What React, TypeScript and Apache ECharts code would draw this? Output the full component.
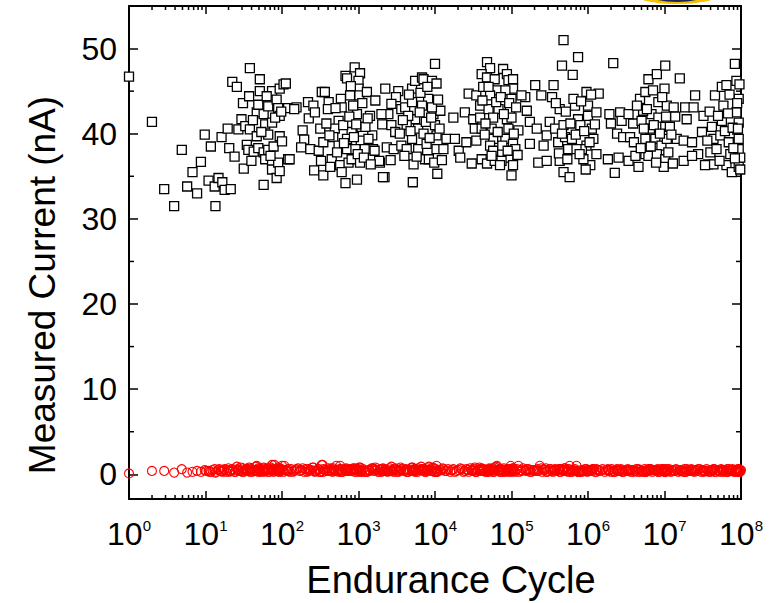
import React, { useEffect, useRef } from "react";
import * as echarts from "echarts";

// x values are log10(Endurance Cycle); y values are measured current (nA)
const xTickExponents = [0, 1, 2, 3, 4, 5, 6, 7, 8];
const yTickValues = [0, 10, 20, 30, 40, 50];
const yMinorValues = [5, 15, 25, 35, 45];
const minorMantissas = [2, 3, 4, 5, 6, 7, 8, 9];

// ON-state current (black squares): [log10(cycle), nA]
const onPoints = [
  // 10^0 - 10^2
  [0.00,46.7],[0.30,41.4],[0.46,33.5],[0.59,31.5],[0.69,38.1],[0.76,33.8],[0.83,35.5],[0.89,33.0],[0.94,36.7],[0.99,39.9],
  [1.04,34.5],[1.07,38.5],[1.12,33.8],[1.13,31.5],[1.17,34.8],[1.21,39.6],[1.22,34.3],[1.25,33.4],[1.29,40.6],[1.31,38.3],
  [1.33,33.5],[1.35,46.1],[1.38,37.3],[1.41,45.5],[1.43,40.5],[1.47,41.7],[1.49,43.6],[1.50,35.9],[1.52,40.9],[1.54,38.7],
  [1.56,38.1],[1.57,44.4],[1.58,47.7],[1.58,40.5],[1.60,36.8],[1.63,37.9],[1.67,42.5],[1.67,39.7],[1.69,43.4],[1.69,38.3],
  [1.71,46.4],[1.71,45.0],[1.76,42.3],[1.76,37.8],[1.76,34.0],[1.78,41.1],[1.78,37.0],[1.82,43.2],[1.82,39.9],[1.82,38.1],
  [1.87,45.0],[1.87,41.3],[1.87,36.4],[1.87,35.8],[1.89,38.5],[1.93,44.0],[1.93,34.8],[1.95,43.0],[1.95,36.6],[1.97,45.3],
  [1.97,42.1],[1.97,39.7],[1.97,35.6],[2.00,39.1],[2.02,45.8],[2.08,37.0],[2.08,43.0],
  // 10^2 - 10^4
  [2.05,45.9],[2.10,37.0],[2.19,43.1],[2.16,42.9],[2.27,40.4],[2.29,39.3],[2.25,38.4],[2.34,43.7],[2.35,41.8],[2.41,43.3],
  [2.43,42.5],[2.37,38.2],[2.48,38.0],[2.42,35.7],[2.54,35.1],[2.52,44.9],[2.56,44.9],[2.61,43.7],[2.60,42.9],[2.50,40.6],
  [2.54,39.0],[2.65,37.0],[2.63,36.1],[2.76,36.3],[2.78,35.5],[2.83,34.2],[2.83,46.8],[2.85,46.5],[2.95,47.8],[3.02,47.1],
  [3.00,46.2],[3.00,45.3],[3.01,44.5],[3.11,44.9],[3.22,43.9],[3.15,42.1],[3.18,39.8],[3.04,40.8],[2.98,42.3],[2.93,43.3],
  [2.89,44.5],[2.77,44.1],[2.78,43.1],[2.74,41.5],[2.69,40.6],[2.67,39.6],[2.74,38.6],[2.85,38.2],[2.87,36.6],[2.91,37.0],
  [3.02,36.6],[2.98,34.6],[3.03,39.2],[2.91,40.2],[2.85,39.4],[3.09,40.8],[3.19,38.2],[3.28,36.6],[3.34,34.9],[3.35,45.3],
  [3.52,45.0],[3.49,44.3],[3.43,43.5],[3.39,42.3],[3.31,41.1],[3.30,42.3],[3.43,41.0],[3.48,40.2],[3.37,38.4],[3.46,38.2],
  [3.56,42.9],[3.61,43.1],[3.70,43.7],[3.70,45.3],[3.74,46.2],[3.83,46.6],[3.85,46.4],[3.96,46.2],[4.02,45.9],[4.00,48.2],
  [3.91,44.1],[3.83,43.3],[3.74,41.7],[3.78,40.6],[3.65,42.1],[3.63,41.0],[3.54,40.0],[3.56,38.6],[3.63,38.2],[3.70,39.4],
  [3.78,38.2],[3.89,38.8],[4.00,41.0],[4.02,39.8],[3.98,42.3],[4.07,42.7],[3.96,43.1],[3.85,40.0],[3.87,37.0],[3.72,36.4],
  [3.92,37.0],[4.02,38.2],[4.11,38.2],[4.03,35.3],[3.71,34.3],[3.32,34.9],[3.42,36.9],[3.27,36.8],[3.21,38.0],[3.13,39.4],
  [3.08,38.2],[2.96,38.2],[2.51,36.8],
  // 10^4 - 10^6
  [4.15,39.4],[4.24,41.9],[4.26,39.4],[4.31,38.0],[4.33,37.2],[4.39,42.5],[4.44,44.7],[4.41,39.0],[4.48,36.5],[4.50,41.7],
  [4.52,40.6],[4.54,44.5],[4.59,43.3],[4.59,41.9],[4.61,40.6],[4.54,39.2],[4.61,37.0],[4.68,48.4],[4.72,47.7],[4.61,47.0],
  [4.68,46.6],[4.78,46.4],[4.81,45.1],[4.63,45.5],[4.72,44.5],[4.70,42.9],[4.83,42.9],[4.76,41.9],[4.74,40.6],[4.76,39.4],
  [4.72,38.6],[4.76,38.0],[4.68,36.5],[4.78,36.8],[4.89,47.6],[4.94,47.0],[4.96,46.3],[5.02,46.4],[5.02,45.3],[4.92,45.1],
  [5.00,44.1],[4.98,42.7],[4.94,41.7],[5.00,41.9],[5.09,40.4],[4.96,40.6],[4.92,39.4],[5.02,38.8],[5.05,38.2],[4.96,37.2],
  [5.02,36.3],[5.00,35.1],[4.87,36.8],[4.85,36.3],[5.18,44.3],[5.13,44.5],[5.20,42.7],[5.24,41.4],[5.31,45.7],[5.39,44.5],
  [5.33,40.6],[5.46,39.8],[5.42,38.6],[5.24,38.8],[5.35,36.6],[5.46,36.8],[5.50,41.4],[5.55,45.7],[5.53,44.3],[5.63,42.9],
  [5.57,40.6],[5.61,39.0],[5.68,41.0],[5.70,39.6],[5.74,38.2],[5.68,35.5],[5.76,34.9],[5.68,51.0],[5.87,49.0],[5.66,48.0],
  [5.80,46.9],[5.83,43.3],[5.87,41.7],[5.98,44.9],[6.00,43.3],[6.00,42.1],[5.90,41.0],[6.05,40.6],[6.07,39.4],[5.98,38.6],
  [5.92,38.2],[6.03,36.3],[5.94,37.0],[6.11,37.6],[6.11,42.5],[6.14,44.7],[5.85,38.2],[5.79,39.4],[5.63,36.8],
  // 10^6 - 10^8
  [6.33,48.3],[6.28,42.3],[6.30,41.2],[6.26,37.0],[6.40,37.2],[6.35,35.4],[6.42,42.5],[6.44,41.5],[6.38,40.0],[6.46,39.6],
  [6.55,39.6],[6.53,36.8],[6.59,41.2],[6.66,36.1],[6.62,37.4],[6.53,42.3],[6.68,44.1],[6.75,44.9],[6.79,46.4],[6.90,47.0],
  [7.01,48.0],[7.00,45.3],[6.85,45.1],[6.92,43.7],[7.03,43.3],[7.12,43.1],[6.83,42.3],[6.72,42.7],[6.70,41.5],[6.81,40.6],
  [6.92,41.9],[7.01,40.8],[7.07,40.8],[6.75,39.4],[6.88,39.4],[6.96,38.6],[7.03,39.4],[6.75,37.6],[6.79,37.4],[6.90,37.6],
  [7.01,37.0],[6.99,36.1],[7.20,46.5],[7.16,39.4],[7.25,39.2],[7.25,36.8],[7.29,41.7],[7.27,43.1],[7.40,44.5],[7.38,43.1],
  [7.51,42.1],[7.49,40.2],[7.36,39.0],[7.44,37.6],[7.60,37.8],[7.57,36.4],[7.64,36.4],[7.66,44.5],[7.62,40.8],[7.64,39.4],
  [7.75,45.5],[7.81,45.7],[7.77,43.3],[7.75,41.5],[7.73,39.8],[7.84,39.0],[7.86,37.6],[7.81,36.3],[7.88,35.5],[7.92,48.2],
  [7.94,46.2],[7.97,44.1],[7.94,42.5],[7.97,41.3],[7.97,39.4],[7.97,38.2],[7.97,36.1],[7.99,37.2],[7.53,36.3],[7.36,37.4],
];

// further ON-state squares hidden in the dense clusters
const onExtraPoints = [
  [1.62,41.6],[1.73,40.2],[1.80,44.4],[1.85,37.4],[1.91,41.9],[1.99,42.6],
  [2.58,41.2],[2.62,39.8],[2.70,43.0],[2.72,37.8],[2.80,41.0],[2.81,38.9],[2.88,42.0],[2.90,45.6],[2.94,39.6],[2.97,41.1],[2.99,37.6],[3.05,43.6],[3.07,37.2],[3.12,41.8],[3.16,36.4],
  [3.58,41.6],[3.60,37.4],[3.66,44.6],[3.68,40.3],[3.76,37.3],[3.80,42.5],[3.81,44.8],[3.88,41.4],[3.90,45.5],[3.93,39.5],[3.95,41.9],[3.99,36.6],[4.04,44.0],[4.06,40.6],[4.09,36.9],
  [4.62,43.9],[4.65,39.9],[4.66,41.2],[4.70,45.5],[4.74,37.4],[4.80,43.7],[4.82,40.2],[4.86,44.3],[4.88,38.6],[4.90,42.3],[4.95,38.0],[4.97,43.6],[5.03,40.0],[5.06,43.1],[5.08,37.5],
  [5.58,43.6],[5.62,37.7],[5.66,40.0],[5.71,42.6],[5.73,37.0],[5.77,41.2],[5.81,44.1],[5.84,39.9],[5.89,37.6],[5.91,43.8],[5.95,40.3],[5.97,35.8],[6.02,39.0],[6.04,44.6],[6.09,41.1],
  [6.60,39.0],[6.64,43.3],[6.69,38.3],[6.73,40.6],[6.77,42.9],[6.82,38.5],[6.86,41.0],[6.89,36.6],[6.94,40.0],[6.97,44.3],[7.02,42.0],[7.05,37.8],[7.09,39.9],[7.11,36.5],[7.14,42.0],
  [7.56,39.2],[7.59,42.6],[7.68,38.2],[7.70,42.1],[7.72,36.8],[7.79,40.3],[7.83,42.4],[7.85,44.6],[7.89,40.7],[7.90,38.3],[7.92,37.1],[7.95,43.6],[7.96,40.6],[7.98,45.8],[7.99,35.8],
];

// OFF-state current (red circles), measured at the same cycles as onPoints
const offCurrent = [
  0.1,0.4,0.4,0.2,0.6,0.2,0.3,0.4,0.3,0.5, 0.4,0.3,0.6,0.2,0.5,0.4,0.3,0.6,0.5,0.3,
  0.4,0.6,0.3,0.9,0.5,0.4,0.7,0.3,0.5,0.6, 0.4,0.8,0.5,0.3,0.6,0.4,1.0,0.5,0.3,0.7,
  0.4,0.6,0.5,0.3,0.8,0.4,0.6,0.5,0.3,0.7, 0.4,0.6,1.1,0.5,0.3,0.6,0.4,0.8,0.5,0.3,
  0.6,0.4,0.5,1.0,0.3,0.6,0.4,
  0.5,0.3,0.6,0.4,0.7,0.3,0.5,0.6,0.4,0.8, 0.3,0.5,0.6,0.4,0.3,1.1,0.5,0.4,0.7,0.3,
  0.6,0.4,0.5,1.0,0.3,0.6,0.4,0.5,0.7,0.3, 0.4,0.6,0.5,0.3,0.8,0.4,0.6,0.3,0.5,0.7,
  0.4,0.3,0.6,0.5,0.4,0.7,0.3,0.5,0.6,0.4, 0.8,0.3,0.5,0.6,0.4,0.3,0.7,0.5,0.4,0.6,
  0.3,0.5,0.9,0.4,0.6,0.3,0.5,0.7,0.4,0.3, 0.6,0.5,0.4,0.8,0.3,0.6,0.5,0.4,1.0,0.3,
  0.5,0.6,0.4,0.7,0.3,0.5,0.4,0.6,0.3,0.8, 0.5,0.4,0.6,0.3,0.7,0.5,0.4,0.6,0.3,0.5,
  0.9,0.4,0.6,0.3,0.5,0.7,0.4,0.3,0.6,0.5, 0.4,0.6,0.3,
  0.4,0.6,0.3,0.5,0.7,0.4,0.3,0.6,0.5,0.4, 0.8,0.3,0.6,0.5,0.4,0.3,0.7,0.5,0.4,0.6,
  0.3,0.5,1.0,0.4,0.6,0.3,0.5,0.7,0.4,0.3, 0.6,0.5,0.4,0.8,0.3,0.6,0.5,0.4,0.7,0.3,
  0.5,0.6,0.4,0.3,1.0,0.5,0.4,0.6,0.3,0.5, 0.7,0.4,0.6,0.3,0.5,0.4,0.6,0.3,0.5,0.7,
  0.4,0.3,0.6,0.5,0.4,0.3,0.6,0.5,0.4,0.3, 0.6,0.5,0.4,0.7,0.3,0.5,1.0,0.4,0.3,0.6,
  0.5,0.4,0.3,0.6,0.5,0.4,0.3,0.5,0.6,0.4, 0.3,0.5,0.4,0.6,0.3,0.5,0.4,0.3,0.6,
  0.4,0.5,0.3,0.6,0.4,0.3,0.5,0.4,0.6,0.3, 0.5,0.4,0.3,0.6,0.4,0.5,0.3,0.4,0.6,0.5,
  0.3,0.4,0.5,0.3,0.6,0.4,0.5,0.3,0.4,0.6, 0.3,0.5,0.4,0.3,0.5,0.6,0.4,0.3,0.5,0.4,
  0.3,0.6,0.4,0.5,0.3,0.4,0.6,0.3,0.5,0.4, 0.3,0.5,0.4,0.6,0.3,0.4,0.5,0.3,0.4,0.6,
  0.5,0.3,0.4,0.5,0.3,0.6,0.4,0.3,0.5,0.4, 0.3,0.5,0.4,0.6,0.3,0.4,0.5,0.3,0.4,0.5,
];

// further OFF-state circles in the continuous red band: [log10(cycle), nA]
const offExtraPoints = [
  [1.01,0.4],[1.05,0.3],[1.09,0.5],[1.14,0.3],[1.18,0.6],[1.20,0.4],[1.24,0.5],[1.27,0.3],[1.30,0.7],[1.32,0.4],
  [1.36,0.5],[1.39,0.3],[1.42,0.6],[1.44,0.4],[1.46,0.8],[1.48,0.3],[1.51,0.5],[1.53,0.6],[1.55,0.4],[1.59,0.7],
  [1.61,0.3],[1.64,0.5],[1.66,0.9],[1.68,0.4],[1.70,0.6],[1.72,0.3],[1.74,0.5],[1.77,0.7],[1.79,0.4],[1.81,0.6],
  [1.83,0.3],[1.85,0.8],[1.88,0.5],[1.90,1.1],[1.92,0.4],[1.94,0.6],[1.96,0.3],[1.98,0.7],[2.01,0.5],[2.03,1.0],
  [2.06,0.4],[2.12,0.6],[2.14,0.3],[2.18,0.5],[2.21,0.7],[2.23,0.4],[2.31,0.6],[2.33,0.3],[2.38,0.5],[2.40,0.8],
  [2.45,0.4],[2.47,0.6],[2.49,0.3],[2.53,1.1],[2.57,0.5],[2.59,0.4],[2.64,0.7],[2.66,0.3],[2.68,0.5],[2.71,1.0],
  [2.73,0.4],[2.75,0.6],[2.79,0.3],[2.82,0.5],[2.84,0.7],[2.86,0.4],[2.92,0.6],[2.95,0.3],[2.97,0.5],[3.01,0.8],
  [3.04,0.4],[3.06,0.6],[3.10,0.3],[3.14,0.5],[3.17,0.7],[3.20,0.4],[3.23,0.5],[3.26,0.3],[3.29,0.6],[3.33,0.4],
  [3.36,0.5],[3.38,0.3],[3.41,0.7],[3.44,0.4],[3.47,0.6],[3.50,0.3],[3.53,0.5],[3.55,0.8],[3.59,0.4],[3.62,0.6],
  [3.64,0.3],[3.67,0.5],[3.69,0.7],[3.73,0.4],[3.75,0.6],[3.77,0.3],[3.80,0.5],[3.82,0.9],[3.84,0.4],[3.86,0.6],
  [3.88,0.3],[3.90,0.7],[3.93,0.5],[3.95,0.4],[3.97,0.8],[3.99,0.3],[4.01,0.6],[4.04,0.4],[4.08,0.5],[4.10,0.7],
  [4.13,0.4],[4.17,0.6],[4.20,0.3],[4.22,0.5],[4.28,0.4],[4.35,0.6],[4.37,0.3],[4.43,0.5],[4.46,0.7],[4.49,0.4],
  [4.51,0.6],[4.53,0.3],[4.56,0.5],[4.58,0.8],[4.60,0.4],[4.64,0.6],[4.66,0.3],[4.69,0.5],[4.71,0.7],[4.73,0.4],
  [4.75,0.6],[4.77,0.3],[4.79,0.5],[4.80,0.9],[4.82,0.4],[4.84,0.6],[4.86,0.3],[4.88,0.5],[4.90,0.7],[4.93,0.4],
  [4.95,0.6],[4.97,0.3],[4.99,1.0],[5.01,0.5],[5.04,0.4],[5.07,0.6],[5.10,0.3],[5.12,0.5],[5.15,0.7],[5.19,0.4],
  [5.22,0.6],[5.26,0.3],[5.28,0.5],[5.30,0.4],[5.34,0.6],[5.37,1.0],[5.40,0.3],[5.43,0.5],[5.45,0.7],[5.48,0.4],
  [5.51,0.6],[5.54,0.3],[5.56,0.5],[5.59,0.4],[5.62,0.6],[5.64,0.3],[5.67,0.5],[5.69,0.7],[5.72,0.4],[5.75,0.6],
  [5.77,0.3],[5.78,0.5],[5.81,0.4],[5.83,0.6],[5.85,1.0],[5.88,0.3],[5.91,0.5],[5.93,0.4],[5.96,0.6],[5.99,0.3],
  [6.01,0.5],[6.04,0.4],[6.06,0.6],[6.09,0.3],[6.12,0.5],[6.16,0.4],[6.19,0.6],[6.22,0.3],[6.24,0.5],[6.27,0.4],
  [6.31,0.6],[6.34,0.3],[6.37,0.5],[6.39,0.4],[6.43,0.6],[6.45,0.3],[6.48,0.5],[6.50,0.4],[6.52,0.6],[6.56,0.3],
  [6.58,0.5],[6.61,0.4],[6.63,0.6],[6.65,0.3],[6.67,0.5],[6.71,0.4],[6.74,0.6],[6.76,0.3],[6.78,0.5],[6.80,0.4],
  [6.82,0.6],[6.84,0.3],[6.87,0.5],[6.89,0.4],[6.91,0.6],[6.93,0.3],[6.95,0.5],[6.97,0.4],[6.98,0.6],[7.00,0.3],
  [7.02,0.5],[7.04,0.4],[7.06,0.6],[7.08,0.3],[7.10,0.5],[7.13,0.4],[7.15,0.6],[7.18,0.3],[7.21,0.5],[7.23,0.4],
  [7.26,0.6],[7.28,0.3],[7.31,0.5],[7.33,0.4],[7.35,0.6],[7.39,0.3],[7.41,0.5],[7.43,0.4],[7.46,0.6],[7.48,0.3],
  [7.50,0.5],[7.52,0.4],[7.55,0.6],[7.58,0.3],[7.61,0.5],[7.63,0.4],[7.65,0.6],[7.67,0.3],[7.69,0.5],[7.71,0.4],
  [7.74,0.6],[7.76,0.3],[7.78,0.5],[7.80,0.4],[7.82,0.6],[7.83,0.3],[7.85,0.5],[7.87,0.4],[7.89,0.6],[7.91,0.3],
  [7.93,0.5],[7.94,0.4],[7.96,0.6],[7.97,0.3],[7.98,0.5],[7.99,0.4],[8.00,0.5],
];

const FONT = '"Liberation Sans", Arial, Helvetica, sans-serif';

export default function App() {
  const ref = useRef<HTMLDivElement>(null);

  useEffect(() => {
    if (!ref.current) return;
    const chart = echarts.init(ref.current, null, { renderer: "svg" });
    const X_MIN = 0, X_MAX = 8, Y_MIN = -2.9, Y_MAX = 55;

    const minorX: number[][] = [];
    for (let n = X_MIN; n < X_MAX; n++) {
      for (const k of minorMantissas) minorX.push([n + Math.log10(k), Y_MIN]);
    }
    const minorY = yMinorValues.map((v) => [X_MIN, v]);

    const lineStyle = { color: "#000", width: 2 };
    const tickStyle = { color: "#000", width: 1.5 };

    const xAxisBase = {
      type: "value",
      min: X_MIN,
      max: X_MAX,
      interval: 1,
      splitLine: { show: false },
      axisLine: { show: true, onZero: false, lineStyle },
      axisTick: { show: true, inside: true, length: 8, lineStyle: tickStyle },
    };
    const yAxisBase = {
      type: "value",
      min: Y_MIN,
      max: Y_MAX,
      splitNumber: 6,
      splitLine: { show: false },
      axisLine: { show: true, onZero: false, lineStyle },
      axisTick: { show: true, inside: true, length: 9, lineStyle: tickStyle },
    };

    const tickLine = (x1: number, y1: number, x2: number, y2: number) => ({
      type: "line",
      shape: { x1, y1, x2, y2 },
      style: { stroke: "#000", lineWidth: 1.5 },
    });

    const onData = onPoints.concat(onExtraPoints);
    const offData = onPoints
      .map((p, i) => [p[0], offCurrent[i]])
      .filter((p) => p[1] !== undefined)
      .concat(offExtraPoints);

    const option = {
      animation: false,
      backgroundColor: "#fff",
      grid: { left: 129, right: 32, top: 6, bottom: 104, containLabel: false },
      xAxis: [
        {
          ...xAxisBase,
          position: "bottom",
          axisLabel: {
            show: true,
            margin: 19,
            interval: 0,
            showMinLabel: true,
            showMaxLabel: true,
            formatter: (v: number) =>
              xTickExponents.includes(Math.round(v)) ? `{b|10}{s|${Math.round(v)}}` : "",
            rich: {
              b: { fontSize: 32, fontFamily: FONT, color: "#000", lineHeight: 32 },
              s: { fontSize: 15, fontFamily: FONT, color: "#000", verticalAlign: "top", lineHeight: 11 },
            },
          },
        },
        {
          ...xAxisBase,
          position: "top",
          axisLabel: { show: false },
        },
      ],
      yAxis: [
        {
          ...yAxisBase,
          position: "left",
          axisLabel: {
            show: true,
            margin: 12,
            fontSize: 32,
            fontFamily: FONT,
            color: "#000",
            showMinLabel: false,
            showMaxLabel: false,
            formatter: (v: number) => (yTickValues.includes(v) ? String(v) : ""),
          },
        },
        {
          ...yAxisBase,
          position: "right",
          axisLabel: { show: false },
        },
      ],
      graphic: [
        {
          type: "ellipse",
          shape: { cx: 677, cy: -8, rx: 46, ry: 12 },
          style: { fill: "#f2c200" },
          silent: true,
        },
        {
          type: "ellipse",
          shape: { cx: 677, cy: -8, rx: 32, ry: 10 },
          style: { fill: "#1b2459" },
          silent: true,
        },
        {
          type: "text",
          x: 42,
          y: 285,
          rotation: Math.PI / 2,
          style: {
            text: "Measured Current (nA)",
            fontSize: 37,
            fontFamily: FONT,
            fill: "#000",
            align: "center",
            verticalAlign: "middle",
            textAlign: "center",
            textVerticalAlign: "middle",
          },
          silent: true,
        },
        {
          type: "text",
          x: 451,
          y: 580,
          style: {
            text: "Endurance Cycle",
            fontSize: 38,
            fontFamily: FONT,
            fill: "#000",
            align: "center",
            verticalAlign: "middle",
            textAlign: "center",
            textVerticalAlign: "middle",
          },
          silent: true,
        },
      ],
      series: [
        {
          name: "ON",
          type: "scatter",
          xAxisIndex: 0,
          yAxisIndex: 0,
          symbol: "rect",
          symbolSize: 9,
          data: onData,
          itemStyle: { color: "#fff", borderColor: "#000", borderWidth: 1.3, opacity: 1 },
          z: 3,
        },
        {
          name: "OFF",
          type: "scatter",
          xAxisIndex: 0,
          yAxisIndex: 0,
          symbol: "circle",
          symbolSize: 9,
          data: offData,
          itemStyle: { color: "rgba(255,255,255,0)", borderColor: "#ff0000", borderWidth: 1.1, opacity: 1 },
          z: 3,
        },
        {
          name: "xMinorTicks",
          type: "custom",
          xAxisIndex: 0,
          yAxisIndex: 0,
          silent: true,
          data: minorX,
          renderItem: (_params: any, api: any) => {
            const v = api.value(0);
            const b = api.coord([v, Y_MIN]);
            const t = api.coord([v, Y_MAX]);
            return {
              type: "group",
              children: [tickLine(b[0], b[1], b[0], b[1] - 4), tickLine(t[0], t[1], t[0], t[1] + 4)],
            };
          },
          z: 5,
        },
        {
          name: "yMinorTicks",
          type: "custom",
          xAxisIndex: 0,
          yAxisIndex: 0,
          silent: true,
          data: minorY,
          renderItem: (_params: any, api: any) => {
            const v = api.value(1);
            const l = api.coord([X_MIN, v]);
            const r = api.coord([X_MAX, v]);
            return {
              type: "group",
              children: [tickLine(l[0], l[1], l[0] + 5, l[1]), tickLine(r[0], r[1], r[0] - 5, r[1])],
            };
          },
          z: 5,
        },
      ],
    };

    chart.setOption(option as any);
    return () => chart.dispose();
  }, []);

  return (
    <div
      ref={ref}
      style={{ position: "fixed", left: 0, top: 0, width: 773, height: 603, background: "#fff" }}
    />
  );
}
